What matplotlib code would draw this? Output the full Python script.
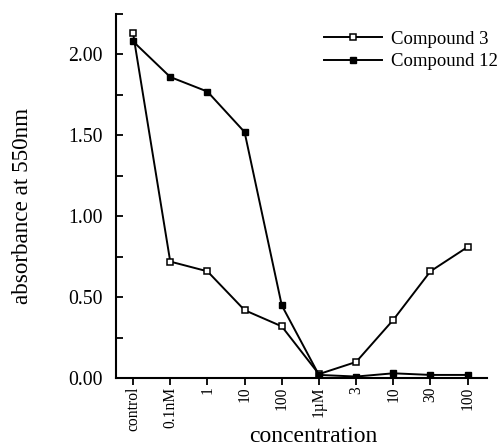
import matplotlib
matplotlib.use("Agg")
import matplotlib.pyplot as plt
from matplotlib.ticker import MultipleLocator

# 데이터
categories = ["control", "0.1nM", "1", "10", "100", "1µM", "3", "10", "30", "100"]
compound3 = [2.13, 0.72, 0.66, 0.42, 0.32, 0.025, 0.10, 0.36, 0.66, 0.81]
compound12 = [2.08, 1.86, 1.77, 1.52, 0.45, 0.02, 0.01, 0.03, 0.02, 0.02]

plt.rcParams['font.family'] = ['Liberation Serif', 'DejaVu Serif']

fig = plt.figure(figsize=(5.02, 4.47), dpi=100)
ax = fig.add_axes([0.231, 0.154, 0.739, 0.815])

x = list(range(len(categories)))
ax.plot(x, compound3, color='black', lw=1.4, marker='s', ms=4.5,
        mfc='white', mec='black', mew=1.1, label='Compound 3')
ax.plot(x, compound12, color='black', lw=1.4, marker='s', ms=4.5,
        mfc='black', mec='black', label='Compound 12')

ax.set_xlim(-0.46, 9.52)
ax.set_ylim(0, 2.25)

ax.spines['top'].set_visible(False)
ax.spines['right'].set_visible(False)
ax.spines['left'].set_linewidth(1.5)
ax.spines['bottom'].set_linewidth(1.5)

ax.yaxis.set_minor_locator(MultipleLocator(0.25))
ax.set_yticks([0, 0.5, 1.0, 1.5, 2.0])
ax.set_yticklabels(["0.00", "0.50", "1.00", "1.50", "2.00"])
ax.tick_params(axis='y', which='both', direction='in', length=5, width=1.3,
               labelsize=14.2, pad=9.5)

ax.set_xticks(x)
ax.set_xticklabels(categories, rotation=90)
ax.tick_params(axis='x', direction='out', length=5, width=1.3, labelsize=11.2, pad=1)

# 축 제목은 fig.text로 위치 맞춤
fig.text(0.044, 0.539, "absorbance at 550nm", rotation=90, ha='center', va='center',
         fontsize=16.7)
fig.text(0.625, 0.012, "concentration", ha='center', va='baseline', fontsize=17)

ax.legend(loc='upper left', bbox_to_anchor=(0.645, 0.932), bbox_transform=fig.transFigure,
          frameon=False, fontsize=13.5, handlelength=3.1, handletextpad=0.5,
          borderpad=0, borderaxespad=0, labelspacing=0.3)

fig.savefig("out.png", dpi=100)
